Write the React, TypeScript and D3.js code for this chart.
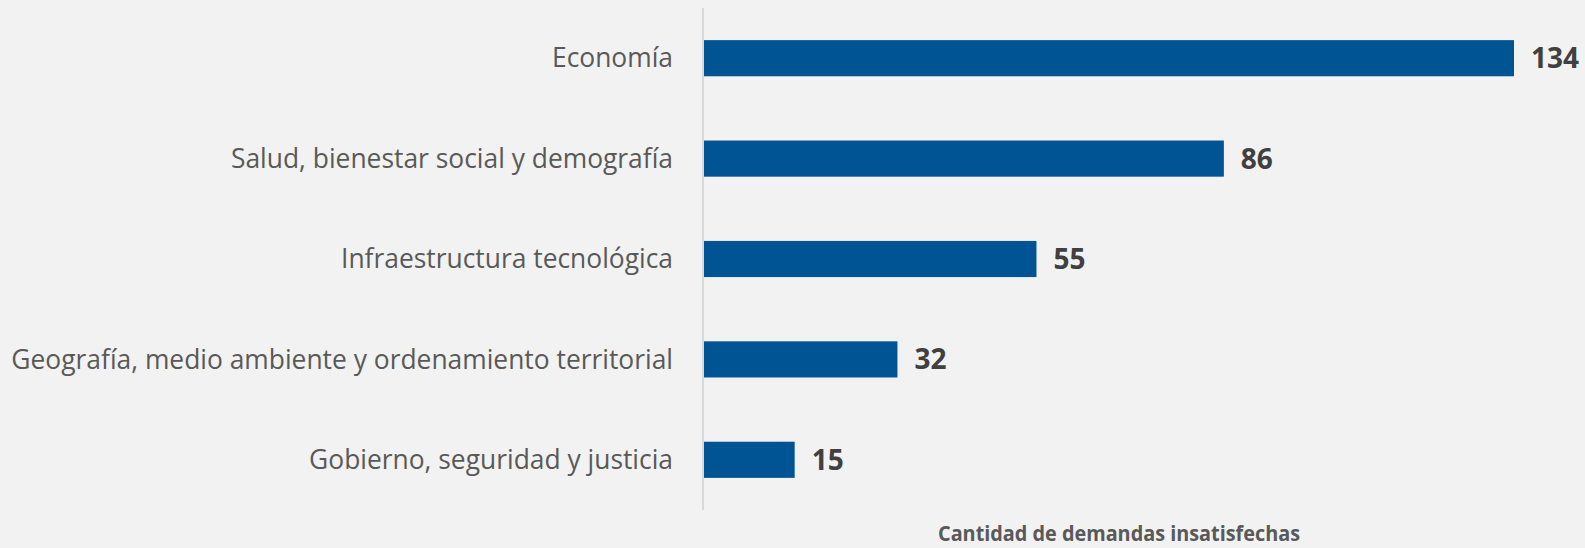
import React, { useRef, useEffect } from 'react'
import * as d3 from 'd3'

const categories = [
  'Economía',
  'Salud, bienestar social y demografía',
  'Infraestructura tecnológica',
  'Geografía, medio ambiente y ordenamiento territorial',
  'Gobierno, seguridad y justicia',
]
const values = [134, 86, 55, 32, 15]
const axisTitle = 'Cantidad de demandas insatisfechas'

const W = 1585
const H = 548

export default function App() {
  const ref = useRef<SVGSVGElement>(null)

  useEffect(() => {
    const svg = d3.select(ref.current)
    svg.selectAll('*').remove()

    svg.append('rect').attr('width', W).attr('height', H).attr('fill', '#f2f2f2')

    const x0 = 704
    const x = d3.scaleLinear().domain([0, 134]).range([x0, x0 + 810])
    const y = d3
      .scaleBand<string>()
      .domain(categories)
      .range([8, 510])
      .paddingInner(0.64)
      .paddingOuter(0.32)

    const rows = categories.map((c, i) => ({ c, v: values[i] }))

    svg
      .append('g')
      .selectAll('rect')
      .data(rows)
      .enter()
      .append('rect')
      .attr('x', x(0))
      .attr('y', d => y(d.c)!)
      .attr('width', d => x(d.v) - x(0))
      .attr('height', y.bandwidth())
      .attr('fill', '#005494')

    // vertical axis line
    svg
      .append('line')
      .attr('x1', x0 - 1)
      .attr('x2', x0 - 1)
      .attr('y1', 8)
      .attr('y2', 510)
      .attr('stroke', '#d9d9d9')
      .attr('stroke-width', 2)

    // category labels
    svg
      .append('g')
      .selectAll('text')
      .data(rows)
      .enter()
      .append('text')
      .attr('x', 673)
      .attr('y', d => y(d.c)! + y.bandwidth() / 2)
      .attr('dy', '0.35em')
      .attr('text-anchor', 'end')
      .attr('font-family', '"Open Sans", sans-serif')
      .attr('font-size', 26.4)
      .attr('fill', '#595959')
      .text(d => d.c)

    // value labels
    svg
      .append('g')
      .selectAll('text')
      .data(rows)
      .enter()
      .append('text')
      .attr('x', d => x(d.v) + 17)
      .attr('y', d => y(d.c)! + y.bandwidth() / 2)
      .attr('dy', '0.36em')
      .attr('font-family', '"Open Sans", sans-serif')
      .attr('font-weight', 'bold')
      .attr('font-size', 28)
      .attr('fill', '#404040')
      .text(d => d.v)

    svg
      .append('text')
      .attr('x', 938)
      .attr('y', 541)
      .attr('font-family', '"Open Sans", sans-serif')
      .attr('font-weight', 'bold')
      .attr('font-size', 22)
      .attr('textLength', 362)
      .attr('lengthAdjust', 'spacingAndGlyphs')
      .attr('fill', '#595959')
      .text(axisTitle)
  }, [])

  return (
    <>
      <style>{'body{margin:0;background:#f2f2f2}'}</style>
      <svg ref={ref} width={W} height={H} style={{ display: 'block' }}></svg>
    </>
  )
}
